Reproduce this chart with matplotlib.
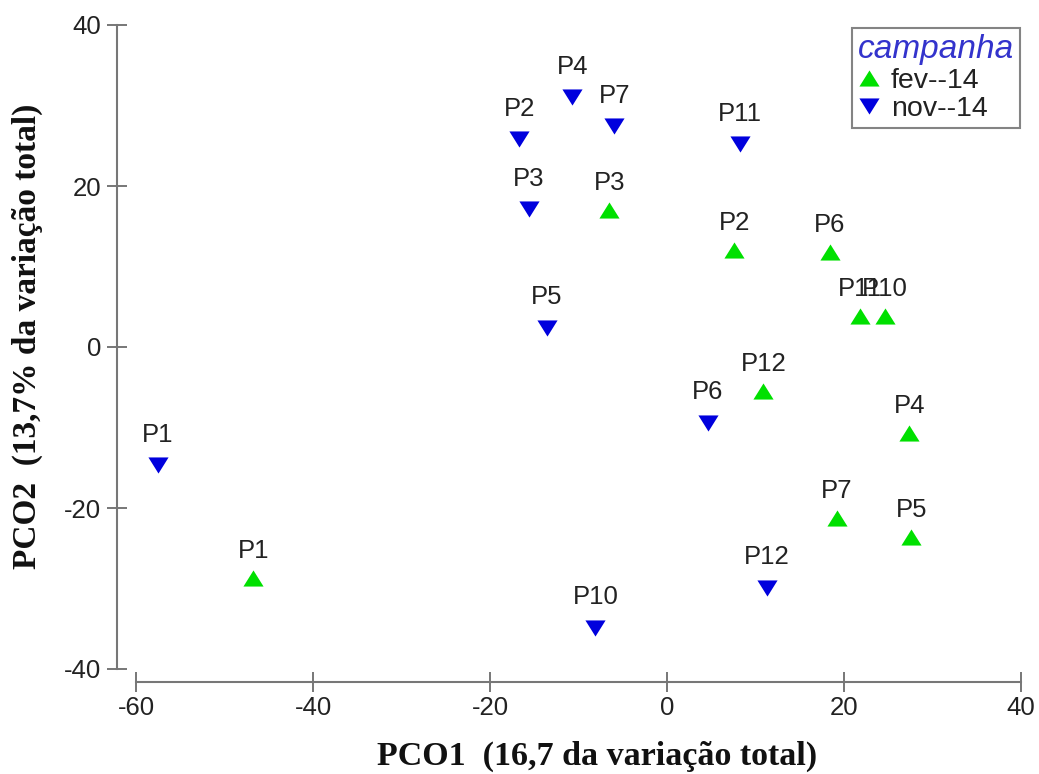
import matplotlib
matplotlib.use("Agg")
import matplotlib.pyplot as plt
from matplotlib.lines import Line2D

plt.rcParams['font.family'] = ['Liberation Sans', 'DejaVu Sans']
plt.rcParams['axes.unicode_minus'] = False

# ---- data ----
fev_labels = ["P1", "P2", "P3", "P4", "P5", "P6", "P7", "P10", "P11", "P12"]
fev_x = [-46.75, 7.6, -6.5, 27.4, 27.6, 18.4, 19.2, 24.6, 21.8, 10.9]
fev_y = [-28.7, 12.0, 17.0, -10.7, -23.6, 11.8, -21.2, 3.85, 3.8, -5.5]

nov_labels = ["P1", "P2", "P3", "P4", "P5", "P6", "P7", "P10", "P11", "P12"]
nov_x = [-57.5, -16.7, -15.6, -10.7, -13.6, 4.6, -5.95, -8.1, 8.2, 11.3]
nov_y = [-14.7, 25.8, 17.1, 31.0, 2.4, -9.4, 27.4, -34.9, 25.2, -29.9]

series_names = ["fev--14", "nov--14"]
legend_title = "campanha"
xlabel = "PCO1  (16,7 da variação total)"
ylabel = "PCO2  (13,7% da variação total)"
xticks = [-60, -40, -20, 0, 20, 40]
yticks = [-40, -20, 0, 20, 40]

GREEN = "#00e000"
BLUE = "#0000dd"
up_marker = [(-1, -0.8), (1, -0.8), (0, 0.8)]
down_marker = [(-1, 0.8), (1, 0.8), (0, -0.8)]

W, H = 1039, 774
fig = plt.figure(figsize=(W / 100, H / 100), dpi=100)
ax = fig.add_axes([136 / W, 1 - 669 / H, (1021 - 136) / W, (669 - 25) / H])
ax.set_xlim(-60, 40)
ax.set_ylim(-40, 40)

ax.plot(fev_x, fev_y, linestyle="none", marker=up_marker, markersize=14.5,
        color=GREEN, markeredgewidth=0, clip_on=False)
ax.plot(nov_x, nov_y, linestyle="none", marker=down_marker, markersize=14.5,
        color=BLUE, markeredgewidth=0, clip_on=False)

for lab, x, y in zip(fev_labels, fev_x, fev_y):
    ax.annotate(lab, (x, y), xytext=(0, 19.5), textcoords="offset points",
                ha="center", va="center", fontsize=18.5, color="#222222")
for lab, x, y in zip(nov_labels, nov_x, nov_y):
    ax.annotate(lab, (x, y), xytext=(0, 22), textcoords="offset points",
                ha="center", va="center", fontsize=18.5, color="#222222")

for s in ["top", "right"]:
    ax.spines[s].set_visible(False)
ax.spines["left"].set_position(("outward", 19 / 1.389))
ax.spines["bottom"].set_position(("outward", 13 / 1.389))
ax.spines["left"].set_bounds(-40, 40)
ax.spines["bottom"].set_bounds(-60, 40)
for s in ["left", "bottom"]:
    ax.spines[s].set_color("#777777")
    ax.spines[s].set_linewidth(1.5)

ax.set_xticks(xticks)
ax.set_yticks(yticks)
ax.tick_params(direction="inout", length=14.5, width=1.4, color="#777777",
               labelsize=18.5, labelcolor="#222222")
ax.tick_params(axis="x", pad=3)
ax.tick_params(axis="y", pad=4)

fig.text(597 / W, 1 - 756 / H, xlabel, ha="center", va="center",
         fontsize=24.5, fontweight="bold", family="Liberation Serif", color="#111111")
fig.text(27.5 / W, 1 - 336 / H, ylabel, ha="center", va="center", rotation=90,
         fontsize=24, fontweight="bold", family="Liberation Serif", color="#111111")

handles = [
    Line2D([], [], linestyle="none", marker=up_marker, markersize=14.5,
           color=GREEN, markeredgewidth=0),
    Line2D([], [], linestyle="none", marker=down_marker, markersize=14.5,
           color=BLUE, markeredgewidth=0),
]
leg = fig.legend(handles, series_names, title=legend_title, loc="upper right",
                 bbox_to_anchor=(1020 / W, 1 - 28 / H), fontsize=20.5,
                 title_fontsize=24, frameon=True, fancybox=False,
                 handlelength=0.75, handletextpad=0.4, borderpad=0.2,
                 labelspacing=0.1, borderaxespad=0, alignment="left")
leg.get_frame().set_edgecolor("#666666")
leg.get_frame().set_linewidth(1.5)
leg.get_title().set_color("#3333cc")
leg.get_title().set_style("italic")
for t in leg.get_texts():
    t.set_color("#222222")

fig.savefig("out.png", dpi=100)
